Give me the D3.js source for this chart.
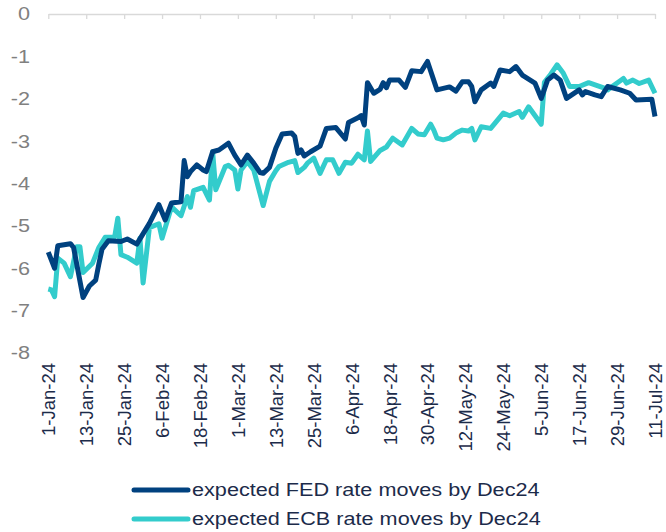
<!DOCTYPE html>
<html>
<head>
<meta charset="utf-8">
<script src="https://cdn.jsdelivr.net/npm/d3@7"></script>
<style>
  body { margin: 0; background: #ffffff; }
  svg { display: block; font-family: "Liberation Sans", Arial, sans-serif; }
</style>
</head>
<body>
<div id="chart"></div>
<script>
width = 666;
height = 532;

// x tick labels (every 12 days)
var tickLabels = ["1-Jan-24", "13-Jan-24", "25-Jan-24", "6-Feb-24", "18-Feb-24", "1-Mar-24",
  "13-Mar-24", "25-Mar-24", "6-Apr-24", "18-Apr-24", "30-Apr-24", "12-May-24",
  "24-May-24", "5-Jun-24", "17-Jun-24", "29-Jun-24", "11-Jul-24"];
var yTicks = [0, -1, -2, -3, -4, -5, -6, -7, -8];

var seriesNames = ["expected FED rate moves by Dec24", "expected ECB rate moves by Dec24"];

var fedDates = ["2024-01-01", "2024-01-03", "2024-01-04", "2024-01-08", "2024-01-09", "2024-01-12",
  "2024-01-14", "2024-01-16", "2024-01-17", "2024-01-18", "2024-01-20", "2024-01-24", "2024-01-26",
  "2024-01-29", "2024-02-02", "2024-02-05", "2024-02-07", "2024-02-09", "2024-02-12", "2024-02-13",
  "2024-02-14", "2024-02-15", "2024-02-17", "2024-02-19", "2024-02-20", "2024-02-22", "2024-02-24",
  "2024-02-27", "2024-02-29", "2024-03-02", "2024-03-04", "2024-03-06", "2024-03-08", "2024-03-09",
  "2024-03-11", "2024-03-13", "2024-03-15", "2024-03-18", "2024-03-19", "2024-03-20", "2024-03-21",
  "2024-03-22", "2024-03-24", "2024-03-27", "2024-03-29", "2024-04-01", "2024-04-04", "2024-04-05",
  "2024-04-08", "2024-04-09", "2024-04-10", "2024-04-11", "2024-04-13", "2024-04-15", "2024-04-16",
  "2024-04-17", "2024-04-18", "2024-04-21", "2024-04-23", "2024-04-25", "2024-04-28", "2024-04-30",
  "2024-05-03", "2024-05-07", "2024-05-09", "2024-05-11", "2024-05-13", "2024-05-14", "2024-05-15",
  "2024-05-17", "2024-05-20", "2024-05-21", "2024-05-23", "2024-05-26", "2024-05-28", "2024-05-30",
  "2024-06-03", "2024-06-05", "2024-06-07", "2024-06-09", "2024-06-11", "2024-06-13", "2024-06-17",
  "2024-06-18", "2024-06-19", "2024-06-22", "2024-06-24", "2024-06-26", "2024-06-30", "2024-07-03",
  "2024-07-05", "2024-07-10", "2024-07-11"];
var fedValues = [-5.62, -6.00, -5.47, -5.42, -5.51, -6.69,
  -6.42, -6.28, -5.90, -5.55, -5.35, -5.37, -5.31,
  -5.43, -4.94, -4.50, -4.86, -4.46, -4.43, -3.46,
  -3.84, -3.72, -3.56, -3.68, -3.72, -3.25, -3.21,
  -3.05, -3.33, -3.56, -3.33, -3.52, -3.74, -3.76,
  -3.62, -3.17, -2.83, -2.81, -2.89, -3.29, -3.21,
  -3.35, -3.25, -3.12, -2.70, -2.68, -2.95, -2.56,
  -2.45, -2.40, -2.62, -1.62, -1.87, -1.78, -1.62,
  -1.74, -1.56, -1.56, -1.73, -1.34, -1.36, -1.12,
  -1.79, -1.72, -1.82, -1.60, -1.60, -1.71, -2.07,
  -1.79, -1.63, -1.71, -1.32, -1.36, -1.24, -1.44,
  -1.63, -1.99, -1.56, -1.44, -1.56, -1.99, -1.79,
  -1.91, -1.83, -1.91, -1.95, -1.71, -1.79, -1.87,
  -2.03, -2.01, -2.42];

var ecbDates = ["2024-01-01", "2024-01-02", "2024-01-03", "2024-01-04", "2024-01-06", "2024-01-08",
  "2024-01-10", "2024-01-11", "2024-01-12", "2024-01-15", "2024-01-17", "2024-01-19", "2024-01-22",
  "2024-01-23", "2024-01-24", "2024-01-26", "2024-01-29", "2024-01-30", "2024-01-31", "2024-02-02",
  "2024-02-05", "2024-02-06", "2024-02-09", "2024-02-12", "2024-02-14", "2024-02-15", "2024-02-16",
  "2024-02-19", "2024-02-21", "2024-02-22", "2024-02-23", "2024-02-26", "2024-02-27", "2024-02-29",
  "2024-03-01", "2024-03-02", "2024-03-04", "2024-03-06", "2024-03-09", "2024-03-11", "2024-03-13",
  "2024-03-14", "2024-03-17", "2024-03-19", "2024-03-20", "2024-03-22", "2024-03-23", "2024-03-25",
  "2024-03-27", "2024-03-29", "2024-03-31", "2024-04-02", "2024-04-04", "2024-04-06", "2024-04-08",
  "2024-04-10", "2024-04-11", "2024-04-12", "2024-04-15", "2024-04-17", "2024-04-19", "2024-04-22",
  "2024-04-25", "2024-04-27", "2024-04-29", "2024-05-01", "2024-05-02", "2024-05-03", "2024-05-05",
  "2024-05-07", "2024-05-09", "2024-05-11", "2024-05-13", "2024-05-14", "2024-05-15", "2024-05-17",
  "2024-05-20", "2024-05-24", "2024-05-26", "2024-05-29", "2024-05-30", "2024-06-01", "2024-06-05",
  "2024-06-06", "2024-06-08", "2024-06-10", "2024-06-12", "2024-06-14", "2024-06-17", "2024-06-20",
  "2024-06-25", "2024-06-26", "2024-06-29", "2024-07-01", "2024-07-02", "2024-07-04", "2024-07-06",
  "2024-07-09", "2024-07-11"];
var ecbValues = [-6.49, -6.51, -6.67, -5.76, -5.88, -6.20,
  -5.49, -5.49, -6.10, -5.88, -5.51, -5.27, -5.26,
  -4.82, -5.68, -5.74, -5.88, -5.29, -6.35, -5.04,
  -4.95, -5.29, -4.55, -4.76, -4.31, -4.56, -4.17,
  -4.09, -4.39, -3.25, -4.15, -3.60, -3.57, -3.68,
  -4.13, -3.68, -3.48, -3.68, -4.52, -3.95, -3.70,
  -3.60, -3.50, -3.46, -3.74, -3.62, -3.52, -3.40,
  -3.76, -3.44, -3.44, -3.76, -3.50, -3.52, -3.31,
  -3.44, -2.76, -3.48, -3.22, -3.14, -2.93, -3.09,
  -2.70, -2.83, -2.85, -2.60, -2.74, -2.93, -2.97,
  -2.93, -2.81, -2.74, -2.76, -2.70, -2.97, -2.66,
  -2.70, -2.34, -2.40, -2.30, -2.44, -2.19, -2.60,
  -1.61, -1.42, -1.20, -1.40, -1.71, -1.71, -1.62,
  -1.75, -1.79, -1.63, -1.52, -1.63, -1.56, -1.64,
  -1.56, -1.87];

var colors = ["#00417f", "#33cccc"];
var textColor = "#1c2b4a";
var stretch = 1.17; // the reference text is a bit wide

var parseDay = d3.timeParse("%Y-%m-%d");
var parseTick = d3.timeParse("%d-%b-%y");

function drawChart() {
    var svg = d3.select("#chart").append("svg")
        .attr("width", width)
        .attr("height", height);

    var x = d3.scaleTime()
        .domain([parseTick(tickLabels[0]), parseTick(tickLabels[tickLabels.length - 1])])
        .range([48.3, 655]);
    var y = d3.scaleLinear()
        .domain([-8, 0])
        .range([353, 14]);

    var tickDates = tickLabels.map(function(t) { return parseTick(t); });

    // axis line at 0 with tick marks hanging down
    var topAxis = svg.append("g")
        .attr("transform", "translate(0," + y(0) + ")")
        .call(d3.axisBottom(x).tickValues(tickDates).tickSize(5).tickSizeOuter(0).tickFormat(""));
    topAxis.select(".domain").attr("stroke", "#d9d9d9").attr("stroke-width", 1.3);
    topAxis.selectAll(".tick line").attr("stroke", "#d9d9d9").attr("stroke-width", 1.3);

    // date labels, low position
    var labelAxis = svg.append("g")
        .attr("transform", "translate(0,363)")
        .call(d3.axisBottom(x).tickValues(tickDates).tickSize(0)
            .tickFormat(function(d, i) { return tickLabels[i]; }));
    labelAxis.select(".domain").remove();
    labelAxis.selectAll("text")
        .attr("x", 0)
        .attr("y", 0)
        .attr("dy", "0.35em")
        .attr("text-anchor", "end")
        .attr("transform", "rotate(-90)")
        .attr("fill", textColor)
        .style("font-size", "18.5px")
        .style("font-family", "'Liberation Sans', Arial, sans-serif");

    // y labels
    var yAxis = svg.append("g")
        .attr("transform", "translate(40,0)")
        .call(d3.axisLeft(y).tickValues(yTicks).tickSize(0).tickPadding(8.5)
            .tickFormat(function(d) { return String(d); }));
    yAxis.select(".domain").remove();
    yAxis.selectAll("text")
        .attr("transform", "scale(" + stretch + ",1)")
        .attr("fill", "#808080")
        .style("font-size", "18.5px")
        .style("font-family", "'Liberation Sans', Arial, sans-serif");

    var line = d3.line()
        .x(function(d) { return x(d.date); })
        .y(function(d) { return y(d.value); });

    var ecb = ecbDates.map(function(d, i) { return {date: parseDay(d), value: ecbValues[i]}; });
    var fed = fedDates.map(function(d, i) { return {date: parseDay(d), value: fedValues[i]}; });

    // ECB drawn first so FED sits on top like the reference
    svg.append("path")
        .datum(ecb)
        .attr("d", line)
        .attr("fill", "none")
        .attr("stroke", colors[1])
        .attr("stroke-width", 5)
        .attr("stroke-linejoin", "round");

    svg.append("path")
        .datum(fed)
        .attr("d", line)
        .attr("fill", "none")
        .attr("stroke", colors[0])
        .attr("stroke-width", 5)
        .attr("stroke-linejoin", "round");

    // legend
    var legend = svg.append("g");
    seriesNames.forEach(function(name, i) {
        var ly = 490 + i * 29;
        legend.append("line")
            .attr("x1", 134).attr("x2", 188)
            .attr("y1", ly).attr("y2", ly)
            .attr("stroke", colors[i])
            .attr("stroke-width", 5)
            .attr("stroke-linecap", "round");
        legend.append("text")
            .attr("transform", "translate(192," + ly + ") scale(" + stretch + ",1)")
            .attr("dy", "0.35em")
            .attr("fill", textColor)
            .style("font-size", "18.5px")
            .text(name);
    });
}

drawChart();
</script>
</body>
</html>
